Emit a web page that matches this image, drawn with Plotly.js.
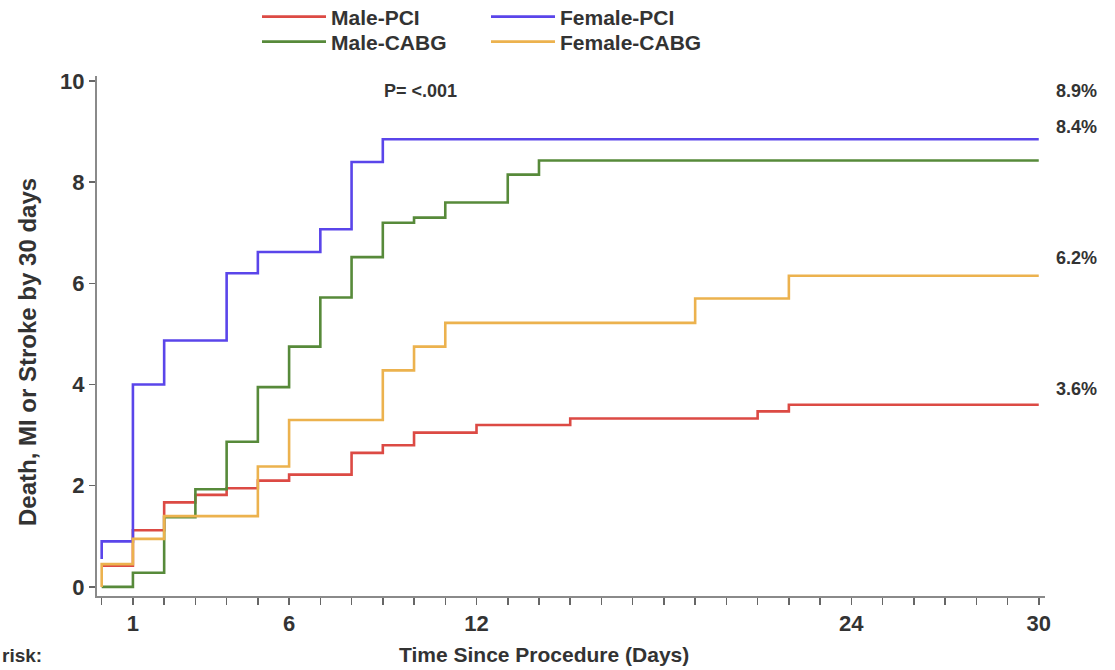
<!DOCTYPE html>
<html>
<head>
<meta charset="utf-8">
<script src="https://cdn.plot.ly/plotly-3.0.1.min.js"></script>
<style>html,body{margin:0;padding:0;background:#fff;}#chart{width:1115px;height:670px;}</style>
</head>
<body>
<div id="chart"></div>
<script>
// Data (days, cumulative %)
const malePciDays   = [0, 1, 2, 3, 4, 5, 6, 8, 9, 10, 12, 15, 21, 22, 30];
const malePciPct    = [0.42, 1.12, 1.67, 1.82, 1.95, 2.1, 2.22, 2.65, 2.8, 3.05, 3.2, 3.33, 3.47, 3.6, 3.6];
const femalePciDays = [0, 0, 1, 2, 4, 5, 7, 8, 9, 30];
const femalePciPct  = [0.55, 0.9, 4.0, 4.87, 6.2, 6.62, 7.07, 8.4, 8.85, 8.85];
const maleCabgDays  = [0, 1, 2, 3, 4, 5, 6, 7, 8, 9, 10, 11, 13, 14, 30];
const maleCabgPct   = [0, 0.28, 1.38, 1.93, 2.87, 3.95, 4.75, 5.72, 6.52, 7.2, 7.3, 7.6, 8.15, 8.43, 8.43];
const femaleCabgDays= [0, 0, 1, 2, 5, 6, 9, 10, 11, 19, 22, 30];
const femaleCabgPct = [0, 0.45, 0.95, 1.4, 2.38, 3.3, 4.28, 4.75, 5.22, 5.7, 6.15, 6.15];

const xTickVals = [1, 6, 12, 24, 30];
const xTickText = ['1', '6', '12', '24', '30'];
const yTickVals = [0, 2, 4, 6, 8, 10];
const endLabels = ['8.9%', '8.4%', '6.2%', '3.6%'];
const endLabelY = [9.8, 9.1, 6.5, 3.92];

const FONT = '"Liberation Sans", Arial, Helvetica, sans-serif';
const TXT = '#333333';

function trace(name, x, y, color, legend) {
  return {type: 'scatter', mode: 'lines', name: name, x: x, y: y, legend: legend,
          line: {shape: 'hv', color: color, width: 2.6}, hoverinfo: 'x+y+name'};
}

const data = [
  trace('Male-PCI', malePciDays, malePciPct, '#dc4a44', 'legend'),
  trace('Female-PCI', femalePciDays, femalePciPct, '#5a45ea', 'legend'),
  trace('Male-CABG', maleCabgDays, maleCabgPct, '#578a3a', 'legend2'),
  trace('Female-CABG', femaleCabgDays, femaleCabgPct, '#ecb24e', 'legend2')
];

const annotations = endLabels.map((t, i) => ({
  text: t, xref: 'paper', x: 1.009, xanchor: 'left', yref: 'y', y: endLabelY[i],
  showarrow: false, font: {family: FONT, size: 18, color: TXT, weight: 'bold'}
}));
annotations.push({text: 'P= <.001', xref: 'x', x: 10.2, yref: 'y', y: 9.8, showarrow: false,
  font: {family: FONT, size: 18, color: TXT, weight: 'bold'}});
annotations.push({text: 'Time Since Procedure (Days)', xref: 'paper', x: (544 - 97) / 948, xanchor: 'center',
  yref: 'paper', y: -(654 - 596) / 520, yanchor: 'middle', showarrow: false,
  font: {family: FONT, size: 21, color: TXT, weight: 'bold'}});
annotations.push({text: 'risk:', xref: 'paper', x: -97 / 948, xanchor: 'left',
  yref: 'paper', y: -(655 - 596) / 520, yanchor: 'middle', showarrow: false,
  font: {family: FONT, size: 19, color: TXT, weight: 'bold'}});
annotations.push({text: 'Death, MI or Stroke by 30 days', textangle: -90,
  xref: 'paper', x: (27 - 97) / 948, xanchor: 'center',
  yref: 'paper', y: (596 - 352) / 520, yanchor: 'middle', showarrow: false,
  font: {family: FONT, size: 24, color: TXT, weight: 'bold'}});

function legendBox(center) {
  return {orientation: 'h', xref: 'container', yref: 'container', x: 257 / 1115, y: 1 - center / 670,
          xanchor: 'left', yanchor: 'middle', entrywidth: 150, entrywidthmode: 'pixels',
          itemwidth: 64, borderwidth: 0, tracegroupgap: 0,
          font: {family: FONT, size: 21, color: TXT, weight: 'bold'}, bgcolor: 'rgba(0,0,0,0)'};
}

const layout = {
  width: 1115, height: 670,
  margin: {l: 97, r: 70, t: 76, b: 74},
  paper_bgcolor: '#ffffff', plot_bgcolor: '#ffffff',
  font: {family: FONT, size: 15, color: TXT, weight: 'bold'},
  showlegend: true,
  legend: legendBox(17),
  legend2: legendBox(42),
  xaxis: {
    range: [-0.15, 30.2], showgrid: false, zeroline: false,
    showline: true, linecolor: '#8a8a8a', linewidth: 2,
    tickmode: 'array', tickvals: xTickVals, ticktext: xTickText,
    ticks: 'outside', ticklen: 7, tickwidth: 1.5, tickcolor: '#666',
    tickfont: {family: FONT, size: 22, color: TXT, weight: 'bold'},
    minor: {ticks: 'outside', dtick: 1, tick0: 0, ticklen: 7, tickwidth: 1.5, tickcolor: '#666', showgrid: false}
  },
  yaxis: {
    range: [-0.18, 10.1], showgrid: false, zeroline: false,
    showline: true, linecolor: '#8a8a8a', linewidth: 2,
    tickmode: 'array', tickvals: yTickVals,
    ticks: 'outside', ticklen: 6, tickwidth: 1.5, tickcolor: '#666',
    tickfont: {family: FONT, size: 22, color: TXT, weight: 'bold'}
  },
  annotations: annotations
};

Plotly.newPlot('chart', data, layout, {displayModeBar: false, staticPlot: true});
</script>
</body>
</html>
